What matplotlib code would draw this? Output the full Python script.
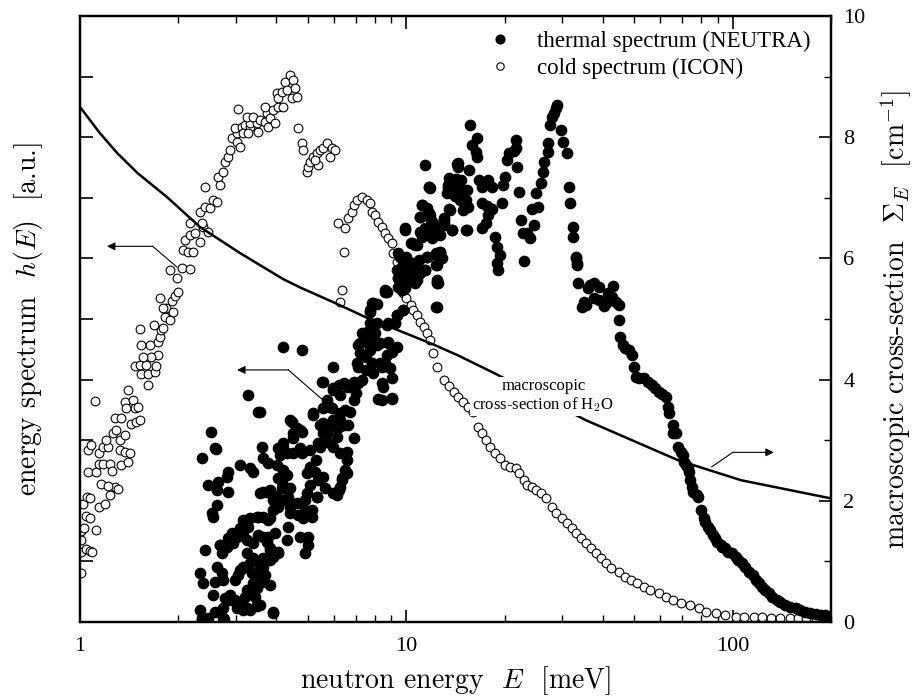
import matplotlib
matplotlib.use("Agg")
import matplotlib.pyplot as plt
from matplotlib.ticker import LogLocator, FixedLocator, NullFormatter, MultipleLocator

# ---- data ----
# neutron energy E [meV], spectrum h(E) [a.u., scaled 0..10]
thermal_E = [
    3.56, 2.52, 2.59, 2.37, 3.09, 3.32, 3.39, 2.84, 2.82, 3.61, 3.64, 3.77,
    4.04, 4.19, 4.10, 4.32, 4.01, 4.19, 4.32, 4.04, 4.51, 4.79, 5.07, 5.29,
    4.41, 4.63, 4.51, 4.79, 5.18, 5.63, 5.44, 5.70, 5.56, 5.96, 6.13, 6.42,
    5.70, 5.37, 5.07, 4.97, 5.25, 5.37, 5.56, 5.07, 4.97, 5.32, 4.89, 6.58,
    6.50, 6.37, 6.27, 6.13, 3.64, 3.83, 3.91, 3.89, 4.01, 4.16, 4.41, 4.35,
    4.41, 4.04, 3.91, 3.64, 3.83, 3.51, 3.32, 3.16, 3.25, 3.09, 2.92, 3.03,
    3.16, 2.84, 2.95, 3.25, 3.39, 3.51, 3.64, 3.74, 3.83, 3.89, 4.04, 4.32,
    4.35, 4.73, 5.00, 5.00, 4.89, 4.41, 4.66, 4.83, 4.89, 4.63, 4.16, 4.25,
    2.42, 2.69, 2.72, 2.33, 2.38, 2.63, 2.72, 2.74, 2.59, 2.99, 3.06, 3.16,
    3.32, 3.36, 3.51, 3.64, 3.69, 3.83, 3.83, 3.61, 3.49, 3.27, 3.20, 3.44,
    2.56, 2.78, 2.88, 2.33, 2.59, 2.74, 3.03, 3.16, 3.32, 3.49, 3.56, 3.91,
    2.37, 2.47, 2.74, 3.09, 2.61, 3.27, 3.51, 2.47, 2.63, 2.65, 2.84, 2.63,
    2.54, 2.56, 2.69, 2.88, 2.82, 2.95, 3.09, 3.27, 3.49, 3.77, 3.77, 3.96,
    4.04, 3.83, 3.64, 3.56, 3.39, 3.25, 3.16, 3.09, 4.19, 3.56, 3.74, 2.88,
    2.99, 3.25, 3.49, 3.25, 3.39, 3.64, 3.51, 2.37, 2.76, 3.91, 5.51, 5.96,
    5.92, 6.27, 6.63, 6.90, 6.13, 5.70, 5.18, 5.56, 5.44, 5.96, 6.27, 6.58,
    6.58, 6.37, 6.20, 5.96, 5.63, 5.32, 5.13, 5.13, 4.47, 4.51, 4.73, 4.19,
    4.73, 8.21, 9.05, 8.50, 8.32, 7.06, 7.33, 4.20, 4.79,
    # rising part 5 - 10 meV
    5.56, 5.96, 5.70, 5.56, 5.84, 5.96, 6.20, 6.42, 6.27, 6.63, 6.90, 7.10,
    7.00, 6.90, 6.50, 6.73, 5.96, 6.27, 6.20, 7.10, 7.50, 7.90, 8.44, 8.62,
    8.93, 8.44, 8.44, 9.05, 9.05, 7.86, 7.10, 7.22, 7.50, 7.75, 8.13, 8.81,
    9.05, 8.74, 7.33, 7.58, 7.75, 7.50, 7.75, 8.13, 8.74, 9.24, 9.39, 7.75,
    7.86, 8.13, 8.62, 9.78, 9.45, 9.58, 9.94, 9.58, 9.78, 10.0, 10.4, 10.8,
    9.45, 9.94, 10.3, 10.8, 10.9, 11.4, 11.6, 12.3, 12.4, 12.4, 11.2, 11.4,
    11.2, 11.7, 11.0, 12.1, 12.3, 12.7, 12.4, 12.3, 8.74, 7.93, 7.75,
    7.58, 8.04, 7.22, 7.75, 8.32, 8.81, 9.39, 8.81, 9.24, 9.39, 9.78,
    9.39, 9.71, 9.45, 9.94, 10.5, 10.8, 12.5, 9.71, 8.62, 10.1, 9.58,
    9.40, 9.71, 10.0, 10.3, 10.7, 11.0, 10.6, 10.0, 9.45, 9.71,
    # 10 - 35 meV
    9.94, 10.4, 10.6, 11.0, 11.4, 11.2, 11.0, 11.2, 11.6, 11.8, 11.9, 11.4,
    11.7, 11.8, 9.71, 10.0, 10.5, 9.94, 10.5, 11.0, 11.6, 12.3, 12.7, 12.9,
    12.4, 12.4, 11.4, 10.6, 12.1, 12.5, 13.0, 13.8, 13.0, 13.5, 15.2, 13.4,
    13.9, 14.1, 13.5, 14.2, 14.7, 14.6, 15.3, 15.6, 14.3, 15.2, 14.9, 15.7,
    16.5, 15.9, 16.3, 16.5, 16.7, 17.1, 17.8, 18.3, 17.1, 17.7, 18.3, 17.8,
    17.5, 17.1, 18.7, 19.0, 19.4, 19.0, 19.1, 19.7, 20.1, 19.8, 20.4, 20.6,
    21.3, 21.6, 21.9, 21.7, 22.1, 22.4, 22.7, 23.5, 24.0, 24.6, 23.0, 24.3,
    25.3, 24.9, 25.8, 26.2, 26.4, 27.1, 27.1, 28.0, 29.0, 29.7, 30.3, 31.0,
    31.4, 31.8, 32.3, 32.5, 33.0, 33.3, 14.4, 14.7, 14.9, 15.3, 15.5, 13.6,
    11.3, 12.3, 13.0, 13.8, 12.0, 12.7, 13.4, 13.8, 13.3, 11.7, 14.4, 13.5,
    14.1, 14.3, 12.1, 13.0, 28.4, 28.7, 27.6,
    # decline
    33.0, 33.3, 33.6, 36.6, 37.5, 38.9, 35.9, 43.1, 41.5, 42.7, 44.0, 44.8,
    34.9, 34.6, 35.6, 37.5, 38.9, 40.2, 40.8, 44.8, 45.3, 46.0, 46.9, 48.1,
    49.0, 49.7, 50.4, 51.7, 53.5, 55.0, 56.7, 57.8, 59.3, 60.8, 62.3, 63.3,
    63.8, 65.4, 66.8, 68.2, 65.8, 69.2, 70.2, 71.0, 71.9, 72.9, 73.3, 74.2,
    75.2, 75.7, 77.6, 78.1, 79.7, 81.5, 82.5, 84.1, 85.3, 86.8, 88.3, 89.6,
    91.8, 92.8, 94.9, 97.0, 99.5, 102, 104, 107, 109, 112, 115, 118,
    120, 123, 126, 129, 132, 137, 140, 145, 150, 156, 161, 167,
    173, 180, 186, 192, 199,
]
thermal_h = [
    3.47, 3.14, 2.87, 2.71, 2.59, 2.54, 2.48, 2.48, 2.39, 2.89, 2.71, 2.62,
    2.87, 2.95, 2.76, 2.79, 2.59, 2.51, 2.43, 2.38, 2.79, 2.79, 2.84, 2.67,
    3.33, 3.20, 3.04, 3.14, 3.45, 3.55, 3.25, 3.22, 3.12, 3.33, 3.20, 3.25,
    2.97, 2.95, 2.56, 2.46, 2.48, 2.34, 2.39, 2.26, 2.13, 2.07, 2.01, 2.81,
    2.51, 2.38, 2.23, 2.10, 2.15, 2.18, 2.10, 2.01, 2.07, 2.21, 2.21, 2.07,
    1.90, 1.90, 1.85, 1.73, 1.71, 1.73, 1.71, 1.68, 1.57, 1.55, 1.47, 1.40,
    1.43, 1.39, 1.30, 1.35, 1.30, 1.43, 1.40, 1.32, 1.22, 1.07, 1.14, 1.35,
    1.57, 1.40, 1.40, 1.27, 1.14, 1.80, 1.77, 1.71, 1.85, 1.96, 2.31, 2.01,
    1.19, 1.27, 1.14, 0.81, 0.64, 0.91, 0.81, 0.69, 0.66, 0.69, 0.78, 0.89,
    0.97, 0.81, 0.81, 0.91, 0.78, 1.02, 0.61, 0.66, 0.56, 0.53, 0.41, 0.41,
    0.45, 0.40, 0.36, 0.20, 0.17, 0.23, 0.23, 0.20, 0.20, 0.28, 0.28, 0.17,
    0.07, 0.07, 0.07, 0.28, 2.85, 3.75, 3.47, 2.26, 2.18, 2.31, 2.15, 1.93,
    1.80, 1.73, 1.27, 1.35, 1.24, 1.40, 1.52, 1.57, 1.73, 1.68, 1.40, 1.47,
    1.16, 1.19, 1.06, 0.94, 1.06, 1.14, 0.91, 0.86, 2.23, 2.13, 2.15, 0.45,
    0.36, 0.23, 0.26, 0.53, 0.64, 0.69, 0.81, 0.03, 0.05, 0.15, 3.96, 3.86,
    3.53, 3.45, 3.25, 3.04, 3.05, 3.12, 3.42, 3.28, 2.89, 2.89, 2.79, 2.67,
    2.46, 2.34, 2.18, 2.13, 2.21, 2.07, 1.85, 1.73, 3.30, 3.12, 3.17, 2.89,
    2.87, 3.68, 3.68, 3.88, 4.27, 4.27, 3.99, 4.54, 4.49,
    # rising part 5 - 10 meV
    3.96, 4.21, 3.66, 3.53, 3.55, 3.83, 3.91, 3.94, 3.75, 3.88, 3.96, 3.94,
    3.78, 3.66, 3.50, 3.47, 3.33, 3.33, 3.22, 4.21, 4.16, 4.11, 4.21, 4.27,
    4.19, 3.94, 3.66, 3.70, 4.03, 4.27, 4.57, 4.44, 4.37, 4.49, 4.57, 4.60,
    4.46, 4.40, 4.77, 4.79, 4.70, 4.69, 4.93, 4.93, 4.90, 4.93, 5.07, 5.15,
    5.26, 5.25, 5.48, 5.15, 5.68, 5.53, 5.51, 5.81, 5.89, 6.02, 5.81, 5.64,
    6.09, 6.47, 6.25, 6.22, 5.97, 5.81, 6.02, 5.89, 5.61, 5.20, 6.42, 6.47,
    6.88, 6.75, 6.68, 6.47, 6.06, 6.11, 5.64, 5.20, 5.45, 5.26, 5.12,
    4.77, 4.77, 4.60, 4.54, 4.60, 4.62, 4.54, 4.93, 4.93, 5.07, 5.15,
    5.81, 5.86, 5.68, 5.59, 5.79, 5.69, 5.60, 5.48, 5.45, 5.92, 6.02,
    5.81, 5.48, 5.99, 5.81, 5.81, 5.76, 5.64, 5.64, 5.53, 6.02,
    # 10 - 35 meV
    6.50, 6.25, 6.22, 6.44, 6.50, 6.35, 6.68, 6.88, 6.83, 6.72, 6.63, 7.54,
    7.18, 7.16, 6.02, 6.00, 5.92, 5.76, 5.76, 5.81, 6.02, 6.09, 6.11, 6.00,
    5.89, 5.60, 5.81, 5.60, 6.47, 6.52, 6.55, 6.47, 6.67, 6.82, 6.47, 7.16,
    7.18, 7.03, 7.33, 7.31, 7.13, 6.96, 7.13, 7.46, 7.56, 6.96, 6.80, 8.20,
    7.99, 7.87, 7.76, 7.67, 7.29, 7.18, 7.29, 7.18, 6.91, 6.86, 6.81, 6.72,
    6.58, 6.50, 6.35, 6.19, 6.06, 5.92, 5.81, 6.91, 7.34, 7.21, 7.62, 7.74,
    7.77, 7.82, 7.51, 7.95, 7.10, 6.63, 6.42, 6.42, 6.34, 6.55, 5.96, 6.81,
    6.85, 7.08, 7.24, 7.43, 7.59, 7.76, 7.90, 8.33, 8.53, 8.12, 7.92, 7.74,
    7.18, 6.91, 6.52, 6.35, 6.02, 5.92, 7.51, 7.29, 6.96, 6.47, 6.85, 6.80,
    6.47, 6.47, 6.58, 6.47, 6.34, 6.39, 7.21, 7.13, 7.08, 7.18, 7.57, 7.18,
    7.26, 7.10, 6.58, 6.63, 8.40, 8.48, 8.20,
    # decline
    6.01, 5.89, 5.59, 5.56, 5.59, 5.53, 5.51, 5.54, 5.43, 5.36, 5.28, 5.23,
    5.28, 5.20, 5.23, 5.35, 5.31, 5.21, 5.26, 4.98, 4.70, 4.57, 4.52, 4.49,
    4.41, 4.21, 4.04, 4.03, 4.03, 3.96, 3.91, 3.86, 3.80, 3.76, 3.71, 3.55,
    3.45, 3.25, 3.12, 2.89, 3.12, 2.80, 2.76, 2.64, 2.59, 2.54, 2.48, 2.34,
    2.23, 2.15, 2.10, 2.07, 1.85, 1.72, 1.65, 1.57, 1.52, 1.44, 1.39, 1.32,
    1.27, 1.24, 1.22, 1.16, 1.14, 1.07, 1.02, 0.97, 0.91, 0.83, 0.78, 0.69,
    0.64, 0.58, 0.53, 0.48, 0.41, 0.36, 0.33, 0.28, 0.25, 0.23, 0.20, 0.17,
    0.15, 0.13, 0.12, 0.12, 0.10,
]

cold_E = [
    1.01, 1.01, 1.04, 1.07, 1.09, 1.01, 1.01, 1.03, 1.12, 1.04, 1.07, 1.02,
    1.05, 1.07, 1.14, 1.19, 1.24, 1.28, 1.31, 1.16, 1.22, 1.06, 1.12, 1.14,
    1.18, 1.24, 1.25, 1.34, 1.40, 1.14, 1.06, 1.08, 1.18, 1.22, 1.20, 1.26,
    1.33, 1.33, 1.37, 1.42, 1.37, 1.29, 1.28, 1.34, 1.43, 1.48, 1.53, 1.37,
    1.45, 1.47, 1.38, 1.51, 1.40, 1.11, 1.62, 1.54, 1.62, 1.70, 1.47, 1.53,
    1.59, 1.71, 1.74, 1.65, 1.56, 1.64, 1.54, 1.74, 1.76, 1.77, 1.68, 1.80,
    1.82, 1.84, 1.89, 1.93, 1.53,
    1.76, 1.91, 1.95, 2.00, 1.80, 1.89, 1.98, 2.05, 2.17, 2.07, 2.14, 2.22,
    2.10, 2.17, 2.25, 2.33, 2.38, 2.47, 2.17, 2.36, 2.33, 2.42, 2.50, 2.56,
    2.63, 2.42, 2.65, 2.69, 2.74, 2.78, 2.84, 2.88, 2.92, 3.03, 3.09, 3.03,
    2.99, 3.06, 3.14, 3.20, 3.32, 3.16, 3.27, 3.51, 3.32, 3.49, 3.25, 3.39,
    3.56, 3.69, 3.77, 3.74, 3.69, 3.83, 3.91, 3.96, 4.04, 4.19, 4.01, 4.04,
    4.16, 4.25, 4.32, 4.41, 4.51, 4.57, 4.47, 4.63, 4.66, 4.79, 4.83, 4.97,
    5.00, 5.07, 5.18, 5.32, 5.44, 5.56, 5.70, 5.92, 6.04, 5.84, 5.37, 5.25,
    # second bump and smooth decline
    6.27, 6.37, 6.42, 6.18, 6.50, 6.63, 6.83, 6.90, 7.06, 7.33, 7.58, 7.75,
    7.86, 8.04, 8.21, 8.44, 8.62, 8.81, 9.05, 9.12, 9.39, 9.58, 9.78, 10.0,
    10.3, 10.5, 10.8, 11.0, 11.3, 11.6, 11.8, 12.1, 12.4, 13.0, 13.5, 14.0,
    14.4, 14.9, 15.5, 16.0, 16.6, 17.0, 17.5, 18.1, 18.7, 19.4, 20.1, 20.8,
    21.6, 22.1, 22.9, 23.4, 24.2, 24.9, 25.8, 26.7, 27.9, 28.8, 29.9, 31.0,
    32.1, 33.0, 34.2, 35.5, 36.7, 38.0, 39.4, 40.8, 42.4, 44.8, 46.8, 48.7,
    50.8, 53.3, 55.9, 59.3, 62.3, 65.8, 69.6, 74.2, 78.6, 83.0, 88.7, 95.0,
    102, 108, 116, 123, 131, 140, 150, 159, 168, 180, 188, 197,
]
cold_h = [
    0.81, 1.15, 1.20, 1.18, 1.15, 1.35, 1.50, 1.55, 1.52, 1.75, 1.72, 1.95,
    2.07, 2.05, 1.90, 1.95, 2.10, 2.22, 2.20, 2.28, 2.25, 2.47, 2.47, 2.60,
    2.60, 2.60, 2.50, 2.59, 2.64, 2.79, 2.84, 2.92, 2.89, 2.89, 3.00, 3.12,
    3.00, 2.84, 2.81, 2.79, 3.09, 3.17, 3.37, 3.37, 3.27, 3.30, 3.33, 3.63,
    3.66, 3.53, 3.53, 3.55, 3.83, 3.65, 3.91, 4.10, 4.10, 4.13, 4.22, 4.24,
    4.24, 4.22, 4.40, 4.37, 4.37, 4.57, 4.57, 4.62, 4.70, 4.82, 4.90, 4.85,
    5.03, 5.18, 4.98, 5.12, 4.84,
    5.35, 5.30, 5.38, 5.45, 5.18, 5.81, 5.68, 5.84, 5.83, 6.14, 6.10, 6.10,
    6.30, 6.39, 6.42, 6.27, 6.52, 6.44, 6.58, 6.58, 6.77, 6.85, 6.83, 6.96,
    6.93, 7.18, 7.34, 7.21, 7.43, 7.59, 7.67, 7.79, 7.99, 7.92, 7.84, 8.07,
    8.15, 8.47, 8.17, 8.20, 8.17, 8.07, 8.07, 8.09, 8.23, 8.23, 8.33, 8.33,
    8.28, 8.25, 8.17, 8.40, 8.50, 8.32, 8.45, 8.23, 8.50, 8.50, 8.73, 8.65,
    8.75, 8.91, 8.78, 9.03, 8.94, 8.81, 8.65, 8.66, 8.15, 7.90, 7.79, 7.43,
    7.51, 7.59, 7.67, 7.74, 7.79, 7.82, 7.90, 7.82, 7.79, 7.67, 7.54, 7.62,
    # second bump and smooth decline
    5.28, 5.48, 6.10, 6.58, 6.50, 6.67, 6.77, 6.88, 6.96, 7.01, 6.96, 6.91,
    6.77, 6.72, 6.60, 6.52, 6.42, 6.33, 6.25, 6.09, 5.94, 5.64, 5.43, 5.35,
    5.23, 5.15, 5.07, 4.95, 4.87, 4.77, 4.65, 4.44, 4.21, 4.00, 3.90, 3.80,
    3.71, 3.63, 3.55, 3.47, 3.22, 3.12, 3.00, 2.89, 2.79, 2.71, 2.59, 2.56,
    2.54, 2.46, 2.34, 2.26, 2.23, 2.18, 2.13, 2.05, 1.90, 1.80, 1.72, 1.63,
    1.55, 1.47, 1.39, 1.30, 1.22, 1.14, 1.06, 0.97, 0.89, 0.83, 0.74, 0.69,
    0.64, 0.58, 0.53, 0.48, 0.41, 0.36, 0.31, 0.28, 0.23, 0.17, 0.15, 0.12,
    0.08, 0.08, 0.08, 0.08, 0.06, 0.06, 0.06, 0.06, 0.06, 0.06, 0.06, 0.06,
]

# macroscopic cross-section of H2O, Sigma_E [1/cm]
xs_E = [1.0, 1.15, 1.30, 1.50, 1.85, 2.33, 3.09, 4.19, 4.73, 5.96, 7.58,
        10.0, 12.1, 14.4, 18.7, 35.5, 68.0, 106, 200]
xs_sigma = [8.5, 8.07, 7.74, 7.41, 7.01, 6.52, 6.09, 5.66, 5.52, 5.28, 5.02,
            4.76, 4.58, 4.40, 4.10, 3.33, 2.67, 2.34, 2.04]

# ---- figure ----
plt.rcParams['font.family'] = 'serif'
plt.rcParams['font.serif'] = ['Liberation Serif', 'DejaVu Serif']
plt.rcParams['mathtext.fontset'] = 'cm'

fig = plt.figure(figsize=(9.17, 7.0), dpi=100)
ax = fig.add_axes([0.0872, 0.1114, 0.8190, 0.8657])
ax2 = ax.twinx()

ax.plot(thermal_E, thermal_h, 'o', ms=7.4, color='black', mec='black',
        label='thermal spectrum (NEUTRA)', zorder=3)
ax.plot(cold_E, cold_h, 'o', ms=6.3, mfc='white', mec='black', mew=0.8,
        label='cold spectrum (ICON)', zorder=2)
ax2.plot(xs_E, xs_sigma, '-', color='black', lw=1.8, zorder=2)

ax.set_xscale('log')
ax.set_xlim(1, 200)
ax.set_ylim(0, 10)
ax2.set_ylim(0, 10)

# ticks
ax.xaxis.set_major_locator(FixedLocator([1, 10, 100]))
ax.xaxis.set_major_formatter(plt.FuncFormatter(lambda v, p: f"{v:g}"))
ax.xaxis.set_minor_locator(LogLocator(base=10, subs=range(2, 10)))
ax.xaxis.set_minor_formatter(NullFormatter())
ax.yaxis.set_major_locator(MultipleLocator(1))
ax.yaxis.set_ticklabels([])
ax.tick_params(axis='x', which='major', direction='in', length=9, width=1.2,
               top=True, labelsize=16, pad=11)
ax.tick_params(axis='x', which='minor', direction='in', length=5, width=1.0,
               top=True)
ax.tick_params(axis='y', which='major', direction='in', length=9, width=1.2,
               left=True, right=False)
ax2.yaxis.set_major_locator(MultipleLocator(2))
ax2.yaxis.set_minor_locator(MultipleLocator(1))
ax2.tick_params(axis='y', which='major', direction='in', length=9, width=1.2,
                labelsize=16, pad=9)
ax2.tick_params(axis='y', which='minor', direction='in', length=5, width=1.0)

for a in (ax, ax2):
    for s in a.spines.values():
        s.set_linewidth(1.6)

ax.set_xlabel('neutron energy  $E$  [meV]', family='cmr10', fontsize=20,
              labelpad=6)
ax.set_ylabel('energy spectrum  $h(E)$  [a.u.]', family='cmr10', fontsize=20,
              labelpad=22)
ax2.set_ylabel(r'macroscopic cross-section  $\Sigma_E$  [cm$^{-1}$]',
               family='cmr10', fontsize=20, labelpad=9)

# annotations
ax2.text(26.3, 3.73, 'macroscopic\ncross-section of H$_2$O', fontsize=12,
         ha='center', va='center', linespacing=1.1, zorder=5,
         bbox=dict(facecolor='white', edgecolor='none', pad=1.5))

arrow_kw = dict(arrowstyle='-|>', color='black', lw=0.8, shrinkA=0,
                shrinkB=0, mutation_scale=12)
# cold spectrum -> left axis
ax.plot([1.98, 1.67], [5.86, 6.2], color='black', lw=0.8, zorder=4)
ax.annotate('', xy=(1.21, 6.2), xytext=(1.67, 6.2), arrowprops=arrow_kw)
# thermal spectrum -> left axis
ax.plot([5.56, 4.35], [3.66, 4.16], color='black', lw=0.8, zorder=4)
ax.annotate('', xy=(3.03, 4.16), xytext=(4.35, 4.16), arrowprops=arrow_kw)
# cross-section -> right axis
ax2.plot([86.2, 100], [2.56, 2.8], color='black', lw=0.8, zorder=4)
ax2.annotate('', xy=(133.6, 2.8), xytext=(100, 2.8), arrowprops=arrow_kw)

ax.legend(loc='upper right', bbox_to_anchor=(0.985, 0.99), frameon=False,
          fontsize=16.5, handletextpad=0.6, labelspacing=0.25,
          borderaxespad=0, markerscale=0.85)

fig.savefig('out.png', dpi=100)
